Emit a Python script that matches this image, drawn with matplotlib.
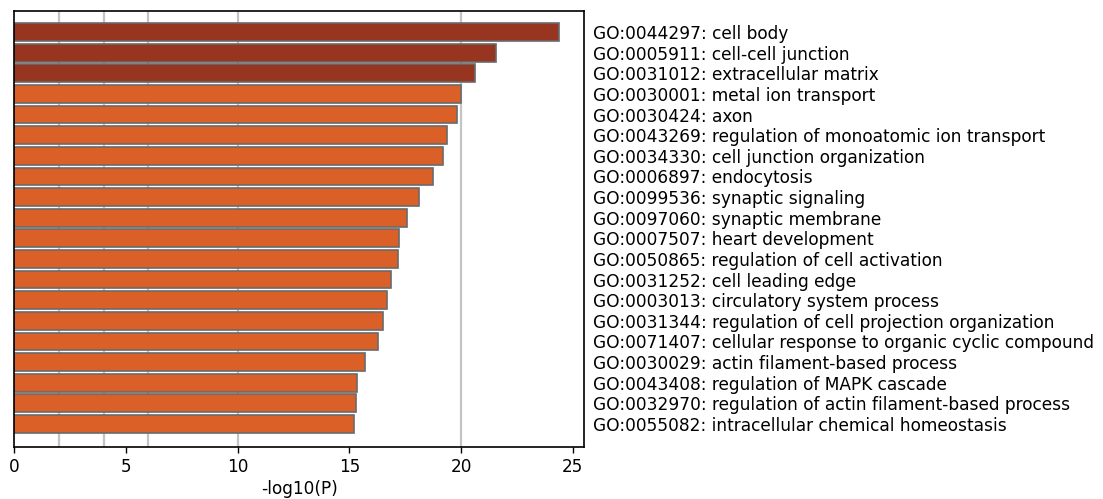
import matplotlib
matplotlib.use("Agg")
import matplotlib.pyplot as plt
import numpy as np

terms = [
    "GO:0044297: cell body",
    "GO:0005911: cell-cell junction",
    "GO:0031012: extracellular matrix",
    "GO:0030001: metal ion transport",
    "GO:0030424: axon",
    "GO:0043269: regulation of monoatomic ion transport",
    "GO:0034330: cell junction organization",
    "GO:0006897: endocytosis",
    "GO:0099536: synaptic signaling",
    "GO:0097060: synaptic membrane",
    "GO:0007507: heart development",
    "GO:0050865: regulation of cell activation",
    "GO:0031252: cell leading edge",
    "GO:0003013: circulatory system process",
    "GO:0031344: regulation of cell projection organization",
    "GO:0071407: cellular response to organic cyclic compound",
    "GO:0030029: actin filament-based process",
    "GO:0043408: regulation of MAPK cascade",
    "GO:0032970: regulation of actin filament-based process",
    "GO:0055082: intracellular chemical homeostasis",
]
neg_log10_p = [24.36, 21.54, 20.64, 20.01, 19.80, 19.35, 19.20, 18.75, 18.10, 17.56,
               17.20, 17.19, 16.85, 16.67, 16.49, 16.30, 15.68, 15.32, 15.29, 15.20]
cutoff_lines = [2, 4, 6, 10, 20]
x_ticks = [0, 5, 10, 15, 20, 25]

values = np.array(neg_log10_p)
top_n = 3
colors = ["#983520" if i < top_n else "#DA6028" for i in range(len(values))]

fig = plt.figure(figsize=(11.03, 4.99), dpi=100)
ax = fig.add_axes([0.013, 0.104, 0.5165, 0.874])

for c in cutoff_lines:
    ax.axvline(c, color="#c4c4c4", linewidth=1.6, zorder=0)

y = np.arange(len(values))
ax.barh(y, values, height=0.86, color=colors, edgecolor="#6a6a6a",
        linewidth=1.2, zorder=2)

ax.set_ylim(len(values) - 1 + 1.12, -1.02)
ax.set_xlim(0, 25.5)
ax.set_xticks(x_ticks)
ax.set_xticklabels([str(t) for t in x_ticks], fontsize=12.2)
ax.set_xlabel("-log10(P)", fontsize=12.2, labelpad=3)

ax.yaxis.tick_right()
ax.set_yticks(y)
ax.set_yticklabels(terms, fontsize=12.25)
ax.tick_params(axis="y", length=0, pad=6.5)
ax.tick_params(axis="x", length=4, width=1)

for s in ax.spines.values():
    s.set_linewidth(1.2)

fig.savefig("out.png", dpi=100)
